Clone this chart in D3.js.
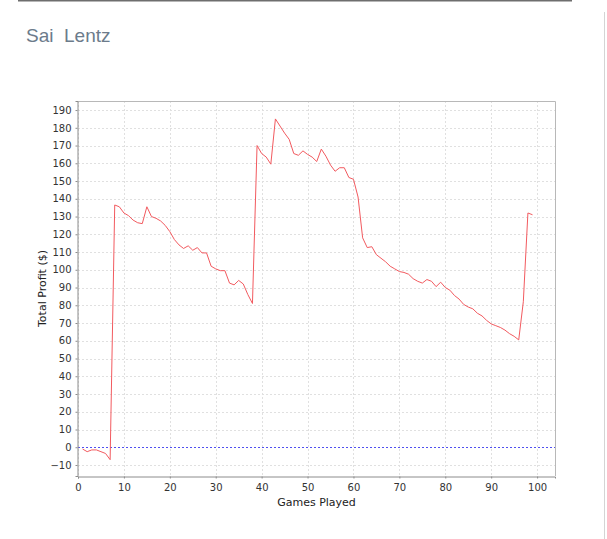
<!DOCTYPE html>
<html>
<head>
<meta charset="utf-8">
<script src="https://cdn.jsdelivr.net/npm/d3@7"></script>
<style>
  body { margin: 0; background: #fff; }
  svg { display: block; }
  .tick text { font-family: "DejaVu Sans", sans-serif; font-size: 10px; fill: #333; }
</style>
</head>
<body>
<div id="chart"></div>
<script>
const playerName = "Sai  Lentz";
const xLabel = "Games Played";
const yLabel = "Total Profit ($)";

// total profit after each game (games 1..99)
const profit = [
  -1, -2.5, -1.5, -1.5, -2.5, -3.5, -7, 136.5, 135.5, 132,
  130.5, 128, 126.5, 126, 135.5, 130, 129, 127.5, 125, 121.5,
  117, 114, 112, 113.5, 111, 112.5, 109.5, 109.5, 102, 100.5,
  99.5, 99.5, 92.5, 91.5, 94, 92, 86, 81, 170, 165.5,
  163.5, 159.5, 185, 181, 177, 173.5, 165.5, 164.5, 167, 165,
  163.5, 161, 168, 164, 159, 155.5, 157.5, 157.5, 152, 151,
  141, 118, 112.5, 113, 108.5, 106.5, 104.5, 102, 100.5, 99,
  98.5, 97.5, 95, 93.5, 92.5, 94.5, 93.5, 90.5, 93, 90,
  88.5, 85.5, 83.5, 80.5, 79, 78, 75.5, 74, 71.5, 69.5,
  68.5, 67.5, 66, 64, 62.5, 60.5, 82, 132, 131
];
const xTicks = [0, 10, 20, 30, 40, 50, 60, 70, 80, 90, 100];
const yTicks = [-10, 0, 10, 20, 30, 40, 50, 60, 70, 80, 90, 100, 110, 120, 130, 140, 150, 160, 170, 180, 190];

const width = 607;
const height = 539;
const plot = { left: 78, top: 101, right: 555, bottom: 476 };

const svg = d3.select('#chart')
  .append('svg')
  .attr('width', width)
  .attr('height', height);

// page frame lines
svg.append('line')
  .attr('x1', 18).attr('x2', 572).attr('y1', 0.5).attr('y2', 0.5)
  .attr('stroke', '#6e6e6e').attr('stroke-width', 2);
svg.append('line')
  .attr('x1', 604.5).attr('x2', 604.5).attr('y1', 12).attr('y2', height)
  .attr('stroke', '#d4d4d4');

// title
svg.append('text')
  .attr('x', 26).attr('y', 42)
  .style('font-family', 'Arial, "Liberation Sans", sans-serif')
  .style('font-size', '19px')
  .style('fill', '#6c7b8b')
  .style('white-space', 'pre')
  .text(playerName);

const x = d3.scaleLinear()
  .domain([0, 103.9])
  .range([plot.left, plot.right]);

const y = d3.scaleLinear()
  .domain([-16.2, 195.1])
  .range([plot.bottom, plot.top]);

const px = v => Math.round(x(v)) + 0.5;
const py = v => Math.round(y(v)) + 0.5;

//Grid
const grid = svg.append('g').attr('class', 'grid');
grid.selectAll('.vgrid')
  .data(xTicks)
  .enter().append('line')
  .attr('x1', px).attr('x2', px)
  .attr('y1', plot.top).attr('y2', plot.bottom)
  .attr('stroke', '#e0e0e0')
  .attr('stroke-dasharray', '2,2');
grid.selectAll('.hgrid')
  .data(yTicks)
  .enter().append('line')
  .attr('y1', py).attr('y2', py)
  .attr('x1', plot.left).attr('x2', plot.right)
  .attr('stroke', '#e0e0e0')
  .attr('stroke-dasharray', '2,2');

//Zero line
svg.append('line')
  .attr('x1', plot.left).attr('x2', plot.right)
  .attr('y1', py(0)).attr('y2', py(0))
  .attr('stroke', '#5050f0')
  .attr('stroke-dasharray', '2,2');

//Plot outline (top & right)
svg.append('path')
  .attr('d', `M${plot.left},${plot.top + 0.5}H${plot.right + 0.5}V${plot.bottom}`)
  .attr('fill', 'none')
  .attr('stroke', '#b8b8b8');

//Series
const line = d3.line()
  .x((d, i) => x(i + 1))
  .y(d => y(d));

svg.append('path')
  .datum(profit)
  .attr('d', line)
  .attr('fill', 'none')
  .attr('stroke', '#f25a5f')
  .attr('stroke-width', 1)
  .attr('stroke-linejoin', 'round');

//Axes
const xAxis = d3.axisBottom(x)
  .tickValues(xTicks)
  .tickSize(2)
  .tickPadding(5)
  .tickFormat(d3.format('d'));

const yAxis = d3.axisLeft(y)
  .tickValues(yTicks)
  .tickSize(2)
  .tickPadding(4)
  .tickFormat(d3.format('d'));

const gx = svg.append('g')
  .attr('transform', `translate(0, ${plot.bottom + 0.5})`)
  .call(xAxis);
const gy = svg.append('g')
  .attr('transform', `translate(${plot.left - 0.5}, 0)`)
  .call(yAxis);

[gx, gy].forEach(g => {
  g.select('.domain').attr('stroke', '#8c8c8c');
  g.selectAll('.tick line').attr('stroke', '#8c8c8c');
  g.attr('font-family', null).attr('font-size', null);
});

svg.append('text')
  .attr('x', (plot.left + plot.right) / 2)
  .attr('y', 506)
  .attr('text-anchor', 'middle')
  .style('font-family', '"DejaVu Sans", sans-serif')
  .style('font-size', '11px')
  .style('fill', '#222')
  .text(xLabel);

svg.append('text')
  .attr('transform', `translate(46, ${(plot.top + plot.bottom) / 2}) rotate(-90)`)
  .attr('text-anchor', 'middle')
  .style('font-family', '"DejaVu Sans", sans-serif')
  .style('font-size', '11px')
  .style('fill', '#222')
  .text(yLabel);
</script>
</body>
</html>
